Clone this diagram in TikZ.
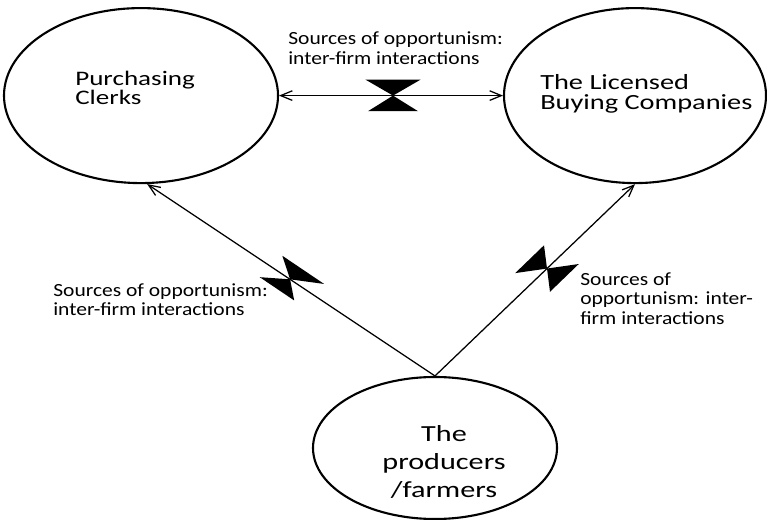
\documentclass[tikz,border=0pt]{standalone}
\usepackage{fontspec}
\setmainfont{Carlito}
\newfontfamily\srcfont{Carlito}[FakeStretch=1.16]
\newfontfamily\bubblefont{Carlito}[FakeStretch=1.31]
\usetikzlibrary{positioning,calc,shapes.geometric,arrows.meta}

\tikzset{
	bubble/.style={ellipse,draw=black,line width=1.5pt,inner sep=0pt},
	bubbletext/.style={inner sep=0pt,align=left},
	link/.style={line width=0.9pt,>={Straight Barb[length=2.9mm,width=2.4mm]}},
	srclabel/.style={anchor=west,inner sep=0pt,align=left,font=\srcfont\fontsize{13.2}{13.9}\selectfont},
	valve/.style={fill=black},
}

\begin{document}
\begin{tikzpicture}
		\useasboundingbox (0,0) rectangle (19.175,-13);
		\node[bubble,minimum width=6.85cm,minimum height=4.375cm] (clerks) at (3.525,-2.39) {};
		\node[bubble,minimum width=6.55cm,minimum height=4.375cm] (lbc) at (15.875,-2.39) {};
		\node[bubble,minimum width=6.1cm,minimum height=3.55cm] (farmers) at (10.875,-11.2) {};
		\node[bubbletext,anchor=west,font=\bubblefont\fontsize{14.7}{12.1}\selectfont,shift={(-1.65,0.19)}] (clerksTxt) at (clerks.center) {Purchasing\\Clerks};
		\node[bubbletext,anchor=west,font=\bubblefont\fontsize{15.4}{14.2}\selectfont,shift={(-2.375,0.04)}] (lbcTxt) at (lbc.center) {The Licensed\\Buying Companies};
		\node[bubbletext,align=center,font=\bubblefont\fontsize{16.4}{19.9}\selectfont,shift={(0.225,-0.35)}] (farmersTxt) at (farmers.center) {The\\producers\\/farmers};
		
		\node[srclabel] (topLbl) at (7.2,-1.2) {Sources of opportunism:\\inter-firm interactions};
		\node[srclabel] (leftLbl) at (1.325,-7.49) {Sources of opportunism:\\inter-firm interactions};
		\node[srclabel] (rightLbl) at (14.5,-7.46) {Sources of\\opportunism: inter-\\firm interactions};
		
		\draw[link,<->] (clerks.east) -- coordinate[pos=0.509] (v1) (lbc.west);
		\draw[link,->] (farmers.north) -- coordinate[pos=0.5035] (v2) (clerks.-86);
		\draw[link,->] (farmers.north) -- coordinate[pos=0.56] (v3) (lbc.south);
		
		\fill[valve,shift={(v1)}] (-0.69,0.4) -- (0.69,0.4) -- (0,0) -- cycle (-0.625,-0.39) -- (0.625,-0.39) -- (0,0) -- cycle;
		\fill[valve,shift={(v2)},rotate=-34] (-0.49,0.38) -- (0.77,0.38) -- (0,0) -- cycle (-0.66,-0.38) -- (0.38,-0.38) -- (0,0) -- cycle;
		\fill[valve,shift={(v3)},rotate=44] (-0.65,0.47) -- (0.35,0.47) -- (0,0) -- cycle (-0.35,-0.47) -- (0.65,-0.47) -- (0,0) -- cycle;
	\end{tikzpicture}
\end{document}
